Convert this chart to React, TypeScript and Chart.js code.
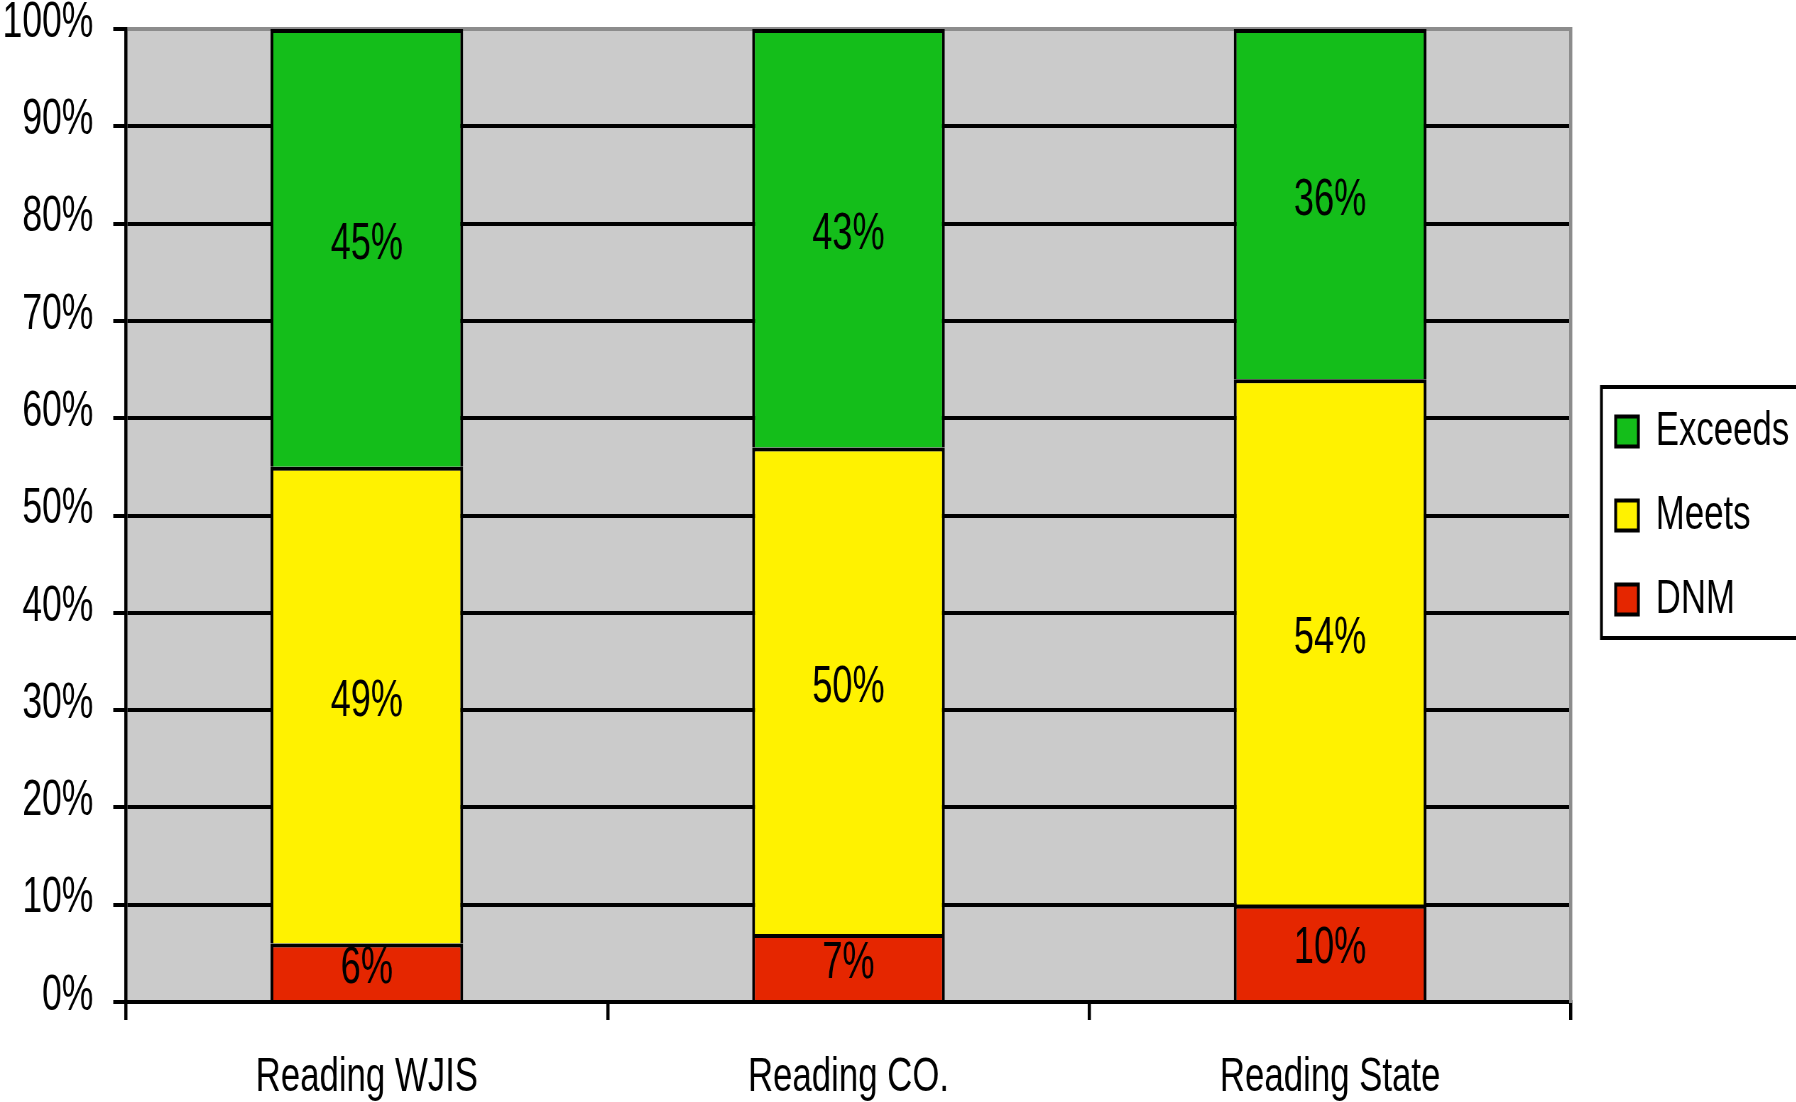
import React, { useEffect, useRef } from 'react';
import { Chart, registerables } from 'chart.js';

Chart.register(...registerables);

// ---- data ----
const categories = ['Reading WJIS', 'Reading CO.', 'Reading State'];
const seriesNames = ['DNM', 'Meets', 'Exceeds'];
const dnmValues = [6, 7, 10];
const meetsValues = [49, 50, 54];
const exceedsValues = [45, 43, 36];
const seriesColors = ['#E52600', '#FFF200', '#14BE1A'];
const yMin = 0;
const yMax = 100;
const yStep = 10;

// ---- presentation ----
const SX = 0.71; // horizontal compression of the original picture
const VIEW_W = 1796;
const VIEW_H = 1102;
const CANVAS_W = Math.round(VIEW_W / SX);
const FONT = "'Liberation Sans', Arial, sans-serif";
const PLOT_BG = '#CBCBCB';
const FRAME_GREY = '#8C8C8C';

const plotBackground = {
  id: 'plotBackground',
  beforeDraw(chart: any) {
    const { ctx, chartArea: a } = chart;
    ctx.save();
    ctx.fillStyle = PLOT_BG;
    ctx.fillRect(a.left, a.top, a.right - a.left, a.bottom - a.top);
    ctx.restore();
  },
};

const segmentLabels = {
  id: 'segmentLabels',
  afterDatasetsDraw(chart: any) {
    const ctx = chart.ctx;
    ctx.save();
    ctx.font = `51px ${FONT}`;
    ctx.fillStyle = '#000';
    ctx.textAlign = 'center';
    ctx.textBaseline = 'middle';
    chart.data.datasets.forEach((ds: any, i: number) => {
      const meta = chart.getDatasetMeta(i);
      meta.data.forEach((el: any, j: number) => {
        const { x, y, base } = el.getProps(['x', 'y', 'base'], true);
        ctx.fillText(`${ds.data[j]}%`, x, (y + base) / 2 - 3);
      });
    });
    ctx.restore();
  },
};

const legendFrame = {
  id: 'legendFrame',
  afterDraw(chart: any) {
    const boxes = chart.legend && chart.legend.legendHitBoxes;
    if (!boxes || !boxes.length) return;
    const ctx = chart.ctx;
    const left = Math.min(...boxes.map((b: any) => b.left)) - 20;
    const top = Math.min(...boxes.map((b: any) => b.top)) - 20;
    const bottom = Math.max(...boxes.map((b: any) => b.top + b.height)) + 14;
    ctx.save();
    ctx.strokeStyle = '#000';
    ctx.lineWidth = 4;
    ctx.strokeRect(left, top, chart.width + 20 - left, bottom - top);
    ctx.restore();
  },
};

export default function App() {
  const canvasRef = useRef<HTMLCanvasElement | null>(null);

  useEffect(() => {
    const canvas = canvasRef.current;
    if (!canvas) return;
    const valueSets = [dnmValues, meetsValues, exceedsValues];
    const chart = new Chart(canvas, {
      type: 'bar',
      data: {
        labels: categories,
        datasets: seriesNames.map((name, i) => ({
          label: name,
          data: valueSets[i],
          backgroundColor: seriesColors[i],
          borderColor: '#000',
          borderWidth: 4,
          barPercentage: 0.4,
          categoryPercentage: 1.0,
          yAxisID: 'y',
          xAxisID: 'x',
        })),
      },
      options: {
        responsive: false,
        animation: false,
        devicePixelRatio: 1,
        events: [],
        layout: { padding: { left: 6, right: 0, top: 29, bottom: 0 } },
        scales: {
          x: {
            stacked: true,
            afterFit: (s: any) => {
              s.height = 100;
            },
            grid: {
              display: true,
              offset: true,
              drawOnChartArea: false,
              drawTicks: true,
              tickLength: 18,
              color: '#000',
              lineWidth: 4.5,
            },
            border: { display: true, color: '#000', width: 4 },
            ticks: {
              color: '#000',
              padding: 28,
              font: { family: FONT, size: 49 },
              maxRotation: 0,
            },
          },
          y: {
            stacked: true,
            min: yMin,
            max: yMax,
            position: 'left',
            afterFit: (s: any) => {
              s.width = 171.5;
              s.paddingTop = 0;
              s.paddingBottom = 0;
            },
            grid: {
              display: true,
              drawTicks: true,
              tickLength: 18,
              lineWidth: 4,
              color: (c: any) => (c.tick && c.tick.value === yMax ? FRAME_GREY : '#000'),
              tickColor: '#000',
            },
            border: { display: true, color: '#000', width: 4.5 },
            ticks: {
              stepSize: yStep,
              color: '#000',
              padding: 28,
              font: { family: FONT, size: 50, lineHeight: '12px' },
              callback: (v: any) => [`${v}%`, ''],
            },
          },
          yr: {
            type: 'linear',
            position: 'right',
            display: true,
            afterFit: (s: any) => {
              s.width = 28;
              s.paddingTop = 0;
              s.paddingBottom = 0;
            },
            grid: { display: false, drawTicks: false },
            ticks: { display: false },
            border: { display: true, color: FRAME_GREY, width: 4.5 },
          },
        },
        plugins: {
          tooltip: { enabled: false },
          legend: {
            display: true,
            position: 'right',
            fullSize: false,
            reverse: true,
            labels: {
              color: '#000',
              boxWidth: 32,
              boxHeight: 30,
              padding: 35,
              font: { family: FONT, size: 49 },
            },
          },
        },
      } as any,
      plugins: [plotBackground, segmentLabels, legendFrame],
    });
    return () => chart.destroy();
  }, []);

  return (
    <div
      style={{
        position: 'absolute',
        left: 0,
        top: 0,
        width: VIEW_W,
        height: VIEW_H,
        overflow: 'hidden',
        background: '#fff',
      }}
    >
      <canvas
        ref={canvasRef}
        width={CANVAS_W}
        height={VIEW_H}
        style={{ display: 'block', transform: `scaleX(${SX})`, transformOrigin: '0 0' }}
      />
    </div>
  );
}
